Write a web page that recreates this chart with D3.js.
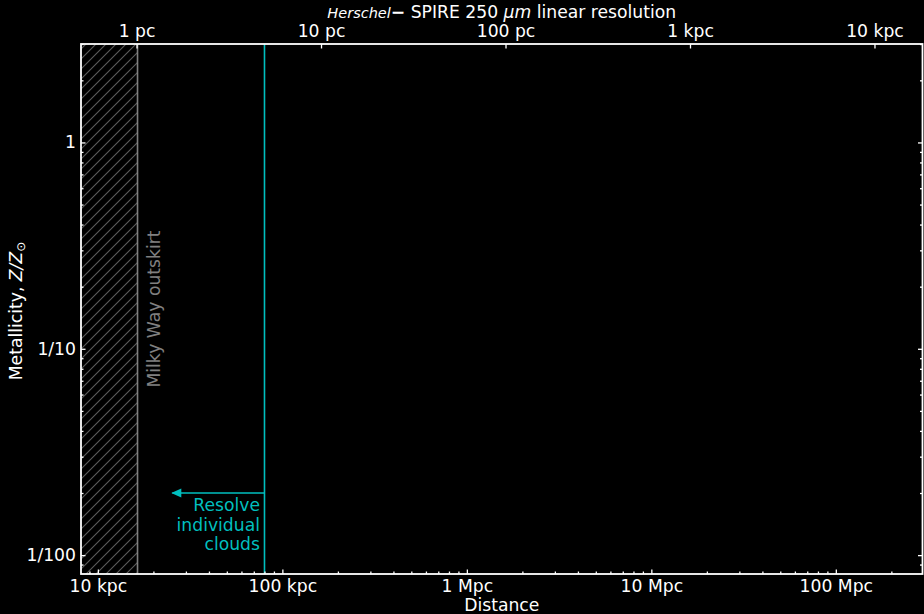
<!DOCTYPE html>
<html>
<head>
<meta charset="utf-8">
<script src="https://cdn.jsdelivr.net/npm/d3@7"></script>
<style>
  body { margin: 0; background: #000; }
  svg { display: block; font-family: "DejaVu Sans", sans-serif; }
</style>
</head>
<body>
<figure id="chart" style="margin:0"></figure>
<script>
// distances in pc, metallicity in solar units
const distanceDomain = [8.1e3, 2.95e8];
const metalDomain = [0.0081, 3];

const xTickVals = [1e4, 1e5, 1e6, 1e7, 1e8];
const xTickLabels = ['10 kpc', '100 kpc', '1 Mpc', '10 Mpc', '100 Mpc'];

// top axis: linear resolution of the 250 um beam (pc)
const distPerResolution = 16200;
const topTickVals = [1, 10, 100, 1000, 10000];
const topTickLabels = ['1 pc', '10 pc', '100 pc', '1 kpc', '10 kpc'];

const yTickVals = [1, 0.1, 0.01];
const yTickLabels = ['1', '1/10', '1/100'];

const milkyWayEdge = 16.4e3;
const resolveDistance = 80e3;
const arrowEnd = 25e3;
const arrowZ = 0.02;
const resolveLines = ['Resolve', 'individual', 'clouds'];

const width = 924, height = 614;
const margin = {left: 81, right: 1.5, top: 44, bottom: 40};
const fs = 17.2;
const cyan = '#00bfbf';

const svg = d3.select('#chart').append('svg')
  .attr('width', width)
  .attr('height', height)
  .style('background', '#000');

const x = d3.scaleLog().domain(distanceDomain).range([margin.left, width - margin.right]);
const xTop = d3.scaleLog()
  .domain(distanceDomain.map(d => d / distPerResolution))
  .range([margin.left, width - margin.right]);
const y = d3.scaleLog().domain(metalDomain).range([height - margin.bottom, margin.top]);

const x0 = x.range()[0], x1 = x.range()[1];
const y0 = y.range()[1], y1 = y.range()[0];

// hatch pattern for the Milky Way region
const defs = svg.append('defs');
const pat = defs.append('pattern')
  .attr('id', 'hatch')
  .attr('patternUnits', 'userSpaceOnUse')
  .attr('width', 10)
  .attr('height', 10);
pat.append('path')
  .attr('d', 'M-1,11 L11,-1 M-6,6 L6,-6 M4,16 L16,4')
  .attr('stroke', '#5a5a5a')
  .attr('stroke-width', 1.1);

svg.append('rect')
  .attr('x', x0)
  .attr('y', y0)
  .attr('width', x(milkyWayEdge) - x0)
  .attr('height', y1 - y0)
  .attr('fill', 'url(#hatch)');

svg.append('line')
  .attr('x1', x(milkyWayEdge)).attr('x2', x(milkyWayEdge))
  .attr('y1', y0).attr('y2', y1)
  .attr('stroke', '#808080')
  .attr('stroke-width', 1.6);

svg.append('text')
  .attr('transform', `translate(${x(milkyWayEdge) + 22},${(y0 + y1) / 2}) rotate(-90)`)
  .attr('text-anchor', 'middle')
  .attr('fill', '#808080')
  .style('font-size', fs + 'px')
  .text('Milky Way outskirt');

// resolve clouds annotation
svg.append('line')
  .attr('x1', x(resolveDistance)).attr('x2', x(resolveDistance))
  .attr('y1', y0).attr('y2', y1)
  .attr('stroke', cyan)
  .attr('stroke-width', 1.6);

svg.append('line')
  .attr('x1', x(resolveDistance)).attr('x2', x(arrowEnd) + 1)
  .attr('y1', y(arrowZ)).attr('y2', y(arrowZ))
  .attr('stroke', cyan)
  .attr('stroke-width', 1.6);
svg.append('path')
  .attr('d', () => {
    const tx = x(arrowEnd), ty = y(arrowZ);
    return `M${tx},${ty} L${tx + 10},${ty - 4.5} L${tx + 10},${ty + 4.5} Z`;
  })
  .attr('fill', cyan);

svg.append('text')
  .attr('text-anchor', 'end')
  .attr('fill', cyan)
  .style('font-size', fs + 'px')
  .selectAll('tspan')
  .data(resolveLines)
  .join('tspan')
  .attr('x', x(resolveDistance) - 4.5)
  .attr('y', (d, i) => y(arrowZ) + 18 + i * 19.5)
  .text(d => d);

// axes
function styleAxis(g) {
  g.select('.domain').remove();
  g.selectAll('line').attr('stroke', '#fff').attr('stroke-width', 1.3);
  g.selectAll('text').attr('fill', '#fff').style('font-size', fs + 'px').style('font-family', '"DejaVu Sans", sans-serif');
}

const xMinor = x.ticks().filter(v => !xTickVals.some(t => Math.abs(t - v) / t < 1e-6));
const yMinor = y.ticks().filter(v => !yTickVals.some(t => Math.abs(t - v) / t < 1e-6));

svg.append('g')
  .attr('transform', `translate(0,${y1})`)
  .call(d3.axisBottom(x).tickValues(xMinor).tickSize(-2.5).tickFormat(''))
  .call(styleAxis);
svg.append('g')
  .attr('transform', `translate(0,${y1})`)
  .call(d3.axisBottom(x).tickValues(xTickVals).tickSize(-4.5).tickPadding(5.5)
    .tickFormat((d, i) => xTickLabels[i]))
  .call(styleAxis);

svg.append('g')
  .attr('transform', `translate(0,${y0})`)
  .call(d3.axisTop(xTop).tickValues(topTickVals).tickSize(-4.5).tickPadding(7)
    .tickFormat((d, i) => topTickLabels[i]))
  .call(styleAxis);

svg.append('g')
  .attr('transform', `translate(${x0},0)`)
  .call(d3.axisLeft(y).tickValues(yMinor).tickSize(-2.5).tickFormat(''))
  .call(styleAxis);
svg.append('g')
  .attr('transform', `translate(${x0},0)`)
  .call(d3.axisLeft(y).tickValues(yTickVals).tickSize(-4.5).tickPadding(5)
    .tickFormat((d, i) => yTickLabels[i]))
  .call(styleAxis);

svg.append('g')
  .attr('transform', `translate(${x1},0)`)
  .call(d3.axisRight(y).tickValues(yMinor).tickSize(-2.5).tickFormat(''))
  .call(styleAxis);
svg.append('g')
  .attr('transform', `translate(${x1},0)`)
  .call(d3.axisRight(y).tickValues(yTickVals).tickSize(-4.5).tickFormat(''))
  .call(styleAxis);

// frame
svg.append('rect')
  .attr('x', x0).attr('y', y0)
  .attr('width', x1 - x0).attr('height', y1 - y0)
  .attr('fill', 'none')
  .attr('stroke', '#fff')
  .attr('stroke-width', 1.8);

// labels
svg.append('text')
  .attr('x', (x0 + x1) / 2)
  .attr('y', 611)
  .attr('text-anchor', 'middle')
  .attr('fill', '#fff')
  .style('font-size', fs + 'px')
  .text('Distance');

const ylab = svg.append('text')
  .attr('transform', `translate(22,${(y0 + y1) / 2 + 2}) rotate(-90)`)
  .attr('text-anchor', 'middle')
  .attr('fill', '#fff')
  .style('font-size', fs + 'px');
ylab.append('tspan').text('Metallicity, ');
ylab.append('tspan').style('font-style', 'italic').text('Z/Z');
ylab.append('tspan').attr('dy', 3).style('font-size', '12px').text('\u2299');

const title = svg.append('text')
  .attr('x', (x0 + x1) / 2)
  .attr('y', 18)
  .attr('text-anchor', 'middle')
  .attr('fill', '#fff')
  .style('font-size', fs + 'px');
title.append('tspan').style('font-style', 'italic').style('font-size', '14.5px').text('Herschel');
title.append('tspan').style('font-weight', 'bold').text('\u2212');
title.append('tspan').text(' SPIRE 250 ');
title.append('tspan').style('font-style', 'italic').text('\u03bcm');
title.append('tspan').text(' linear resolution');
</script>
</body>
</html>
